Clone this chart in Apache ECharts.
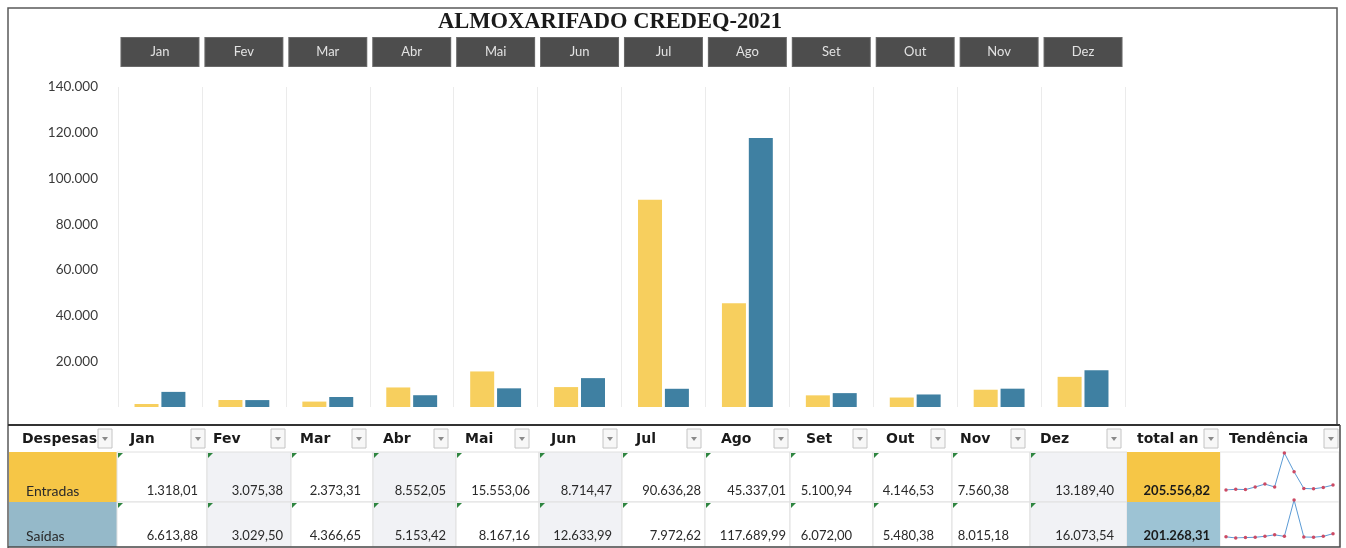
<!DOCTYPE html>
<html>
<head>
<meta charset="utf-8">
<script src="https://cdn.jsdelivr.net/npm/echarts@6/dist/echarts.min.js"></script>
<style>
html,body{margin:0;padding:0;background:#fff;}
#c{width:1346px;height:548px;}
</style>
</head>
<body>
<div id="c"></div>
<script>
// ---- data ----
const titleText = 'ALMOXARIFADO CREDEQ-2021';
const months = ['Jan','Fev','Mar','Abr','Mai','Jun','Jul','Ago','Set','Out','Nov','Dez'];
const entradas = [1318.01, 3075.38, 2373.31, 8552.05, 15553.06, 8714.47, 90636.28, 45337.01, 5100.94, 4146.53, 7560.38, 13189.40];
const saidas = [6613.88, 3029.50, 4366.65, 5153.42, 8167.16, 12633.99, 7972.62, 117689.99, 6072.00, 5480.38, 8015.18, 16073.54];
const totals = [205556.82, 201268.31];
const rowLabels = ['Entradas', 'Saídas'];
const firstHeader = 'Despesas';
const totalHeader = 'total an';
const trendHeader = 'Tendência';
const yMin = 0, yMax = 140000, yStep = 20000;

// ---- helpers ----
function br(v, dec) {
  const s = v.toFixed(dec);
  const parts = s.split('.');
  const i = parts[0].replace(/\B(?=(\d{3})+(?!\d))/g, '.');
  return parts[1] ? i + ',' + parts[1] : i;
}

// ---- layout (table) ----
const edges = [9, 117, 207, 291, 373, 456, 539, 622, 705, 790, 873, 952, 1030, 1127, 1220, 1339];
const headTextX = [22, 130, 213, 300, 383, 465, 551, 636, 721, 806, 886, 960, 1040, 1137, 1229];
const filterRight = [112, 205, 285, 366, 448, 529, 617, 701, 788, 867, 945, 1025, 1121, 1218, 1338];
const valRight = [198, 283, 361, 446, 530, 612, 701, 786, 852, 934, 1009, 1114];
const totalRight = 1210;
const rowsY = [426, 452, 502, 547];
const shaded = [1, 3, 5, 11]; // month indices with light band
const labelFill = ['#F6C646', '#95B9C9'];
const totalFill = ['#F6C646', '#9DC3D4'];

const graphic = [];
// frame
graphic.push({type:'polyline', shape:{points:[[8,548],[8,8],[1337,8],[1337,425]]}, style:{stroke:'#5a5a5a', lineWidth:1.5, fill:null}, z:10});
graphic.push({type:'text', x:610, y:22, style:{text:titleText, fontFamily:'Liberation Serif', fontWeight:'bold', fontSize:22.5, fill:'#1a1a1a', align:'center', verticalAlign:'middle'}, z:10});

// table cells
for (let r = 0; r < 2; r++) {
  const y0 = rowsY[r+1], y1 = rowsY[r+2];
  const vals = r === 0 ? entradas : saidas;
  graphic.push({type:'rect', shape:{x:edges[0], y:y0, width:edges[1]-edges[0], height:y1-y0}, style:{fill:labelFill[r], stroke:null}, z:5});
  graphic.push({type:'text', x:26, y:y1-11, style:{text:rowLabels[r], fontFamily:'Lato', fontSize:14, fill:'#2a2a2a', verticalAlign:'middle'}, z:7});
  for (let m = 0; m < 12; m++) {
    const x0 = edges[m+1], x1 = edges[m+2];
    graphic.push({type:'rect', shape:{x:x0, y:y0, width:x1-x0, height:y1-y0}, style:{fill: shaded.indexOf(m) >= 0 ? '#F1F2F5' : '#ffffff', stroke:'#E0E0E0', lineWidth:1}, z:5});
    graphic.push({type:'polygon', shape:{points:[[x0+1,y0+1],[x0+6,y0+1],[x0+1,y0+6]]}, style:{fill:'#2E8540'}, z:8});
    graphic.push({type:'text', x:valRight[m], y:y1-11, style:{text:br(vals[m],2), fontFamily:'Lato', fontSize:13, fill:'#2a2a2a', align:'right', verticalAlign:'middle'}, z:7});
  }
  graphic.push({type:'rect', shape:{x:edges[13], y:y0, width:edges[14]-edges[13], height:y1-y0}, style:{fill:totalFill[r], stroke:null}, z:5});
  graphic.push({type:'text', x:totalRight, y:y1-11, style:{text:br(totals[r],2), fontFamily:'Lato', fontWeight:'bold', fontSize:13, fill:'#1a1a1a', align:'right', verticalAlign:'middle'}, z:7});
  graphic.push({type:'rect', shape:{x:edges[14], y:y0, width:edges[15]-edges[14], height:y1-y0}, style:{fill:'#ffffff', stroke:'#E6E6E6', lineWidth:1}, z:1});
}
// header row
const headers = [firstHeader].concat(months, [totalHeader, trendHeader]);
for (let c = 0; c < headers.length; c++) {
  graphic.push({type:'text', x:headTextX[c], y:439, style:{text:headers[c], fontFamily:'DejaVu Sans', fontWeight:'bold', fontSize:14, fill:'#1a1a1a', verticalAlign:'middle'}, z:7});
  const bx = filterRight[c] - 14;
  graphic.push({type:'rect', shape:{x:bx, y:429, width:14, height:19}, style:{fill:'#F7F7F7', stroke:'#C4C4C4', lineWidth:1}, z:8});
  const cx = bx + 7, cy = 439;
  graphic.push({type:'polygon', shape:{points:[[cx-3,cy-2],[cx+3,cy-2],[cx,cy+2]]}, style:{fill:'#8A8A8A'}, z:9});
}
// table borders
graphic.push({type:'line', shape:{x1:8, y1:425, x2:1340, y2:425}, style:{stroke:'#333', lineWidth:2.2}, z:11});
graphic.push({type:'polyline', shape:{points:[[1340,425],[1340,547],[8,547]]}, style:{stroke:'#4a4a4a', lineWidth:1.5, fill:null}, z:11});

const chart = echarts.init(document.getElementById('c'));
chart.setOption({
  animation: false,
  backgroundColor: '#ffffff',
  graphic: graphic,
  grid: [
    {left:118, right:221, top:87, bottom:141},
    {left:1226, width:107, top:453, height:37},
    {left:1226, width:107, top:500, height:38}
  ],
  xAxis: [
    {type:'category', gridIndex:0, data:months, axisLine:{show:false}, axisTick:{show:false}, axisLabel:{show:false},
     splitLine:{show:true, lineStyle:{color:'#EBEBEB', width:1}}},
    {type:'category', gridIndex:0, position:'top', data:months, axisLine:{show:false}, axisTick:{show:false}, splitLine:{show:false},
     axisLabel:{interval:0, margin:21, formatter:'{b|{value}}',
       rich:{b:{width:77, height:28, lineHeight:28, align:'center', backgroundColor:'#4D4D4D', borderColor:'#6a6a6a', borderWidth:1, color:'#E2E2E2', fontFamily:'Lato', fontSize:13}}}},
    {type:'category', gridIndex:1, data:months, boundaryGap:false, show:false},
    {type:'category', gridIndex:2, data:months, boundaryGap:false, show:false}
  ],
  yAxis: [
    {type:'value', gridIndex:0, min:yMin, max:yMax, interval:yStep, axisLine:{show:false}, axisTick:{show:false}, splitLine:{show:false},
     axisLabel:{margin:20, color:'#3a3a3a', fontFamily:'Lato', fontSize:13.5, formatter:function(v){return v === 0 ? '' : br(v,0);}}},
    {type:'value', gridIndex:1, min:'dataMin', max:'dataMax', show:false},
    {type:'value', gridIndex:2, min:'dataMin', max:'dataMax', show:false}
  ],
  series: [
    {name:rowLabels[0], type:'bar', xAxisIndex:0, yAxisIndex:0, data:entradas, barWidth:24, barGap:'12%', itemStyle:{color:'#F7CF5E'}},
    {name:rowLabels[1], type:'bar', xAxisIndex:0, yAxisIndex:0, data:saidas, barWidth:24, barGap:'12%', itemStyle:{color:'#3F80A2'}},
    {type:'line', xAxisIndex:2, yAxisIndex:1, data:entradas, symbol:'circle', symbolSize:3.5, lineStyle:{color:'#5B9BD5', width:1}, itemStyle:{color:'#CC4A64'}},
    {type:'line', xAxisIndex:3, yAxisIndex:2, data:saidas, symbol:'circle', symbolSize:3.5, lineStyle:{color:'#5B9BD5', width:1}, itemStyle:{color:'#CC4A64'}}
  ]
});
</script>
</body>
</html>
